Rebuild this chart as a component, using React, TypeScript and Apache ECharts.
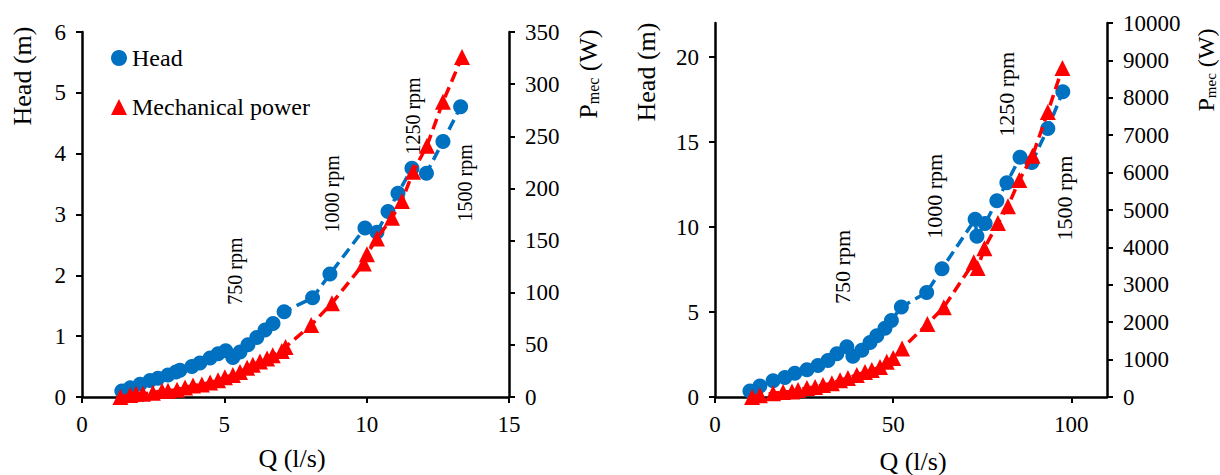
import React, { useEffect, useRef } from "react";
import * as echarts from "echarts";

// ---------- data: left chart (small pump) ----------
const leftHeadQ = [1.40, 1.69, 2.04, 2.39, 2.67, 3.02, 3.30, 3.44, 3.86, 4.14, 4.50, 4.78, 5.05, 5.30, 5.55, 5.83, 6.14, 6.43, 6.71, 7.10, 8.10, 8.71, 9.94, 10.36, 10.75, 11.10, 11.59, 12.10, 12.68, 13.30];
const leftHead = [0.10, 0.15, 0.21, 0.27, 0.31, 0.36, 0.41, 0.44, 0.50, 0.56, 0.64, 0.71, 0.76, 0.65, 0.74, 0.86, 0.98, 1.10, 1.21, 1.40, 1.63, 2.02, 2.78, 2.71, 3.05, 3.35, 3.76, 3.68, 4.20, 4.77];
const leftPowerQ = [1.35, 1.69, 1.90, 2.14, 2.49, 2.81, 3.02, 3.34, 3.62, 3.90, 4.21, 4.50, 4.78, 5.02, 5.30, 5.55, 5.80, 6.00, 6.25, 6.50, 6.70, 7.02, 7.15, 8.05, 8.78, 9.90, 10.01, 10.36, 10.89, 11.24, 11.63, 12.12, 12.68, 13.35];
const leftPower = [0, 2, 3, 3, 4, 6, 6, 7, 9, 11, 12, 14, 16, 19, 21, 24, 28, 31, 34, 37, 40, 44, 48, 69, 90, 128, 137, 152, 172, 188, 216, 241, 283, 326];

// ---------- data: right chart (large pump) ----------
const rightHeadQ = [9.8, 12.6, 16.3, 19.6, 22.4, 25.8, 28.9, 31.7, 34.2, 37.0, 38.7, 41.2, 43.5, 45.4, 47.7, 49.5, 52.3, 59.4, 63.7, 73.0, 73.5, 75.8, 79.1, 81.9, 85.6, 88.9, 93.4, 97.6];
const rightHead = [0.35, 0.65, 0.95, 1.15, 1.40, 1.60, 1.85, 2.15, 2.55, 2.95, 2.40, 2.75, 3.20, 3.60, 4.05, 4.50, 5.30, 6.15, 7.55, 10.45, 9.45, 10.20, 11.55, 12.60, 14.10, 13.80, 15.80, 17.95];
const rightPowerQ = [10.4, 12.6, 16.3, 19.1, 21.6, 23.3, 25.8, 28.1, 30.3, 32.8, 35.1, 37.3, 39.8, 42.1, 44.0, 46.3, 48.2, 50.0, 52.5, 59.6, 64.2, 72.6, 73.7, 75.6, 79.4, 82.2, 85.4, 89.1, 93.4, 97.5];
const rightPower = [0, 50, 100, 135, 150, 190, 240, 270, 320, 370, 450, 510, 590, 670, 720, 800, 940, 1040, 1300, 1950, 2400, 3600, 3450, 3980, 4650, 5100, 5800, 6450, 7620, 8800];

// ---------- annotations (speed labels, in data coordinates of the head axis) ----------
const rpmLabels = ["750 rpm", "1000 rpm", "1250 rpm", "1500 rpm"];
const leftRpmQ = [5.37, 8.78, 11.63, 13.45];
const leftRpmH = [2.07, 3.34, 4.62, 3.52];
const rightRpmQ = [35.9, 61.7, 81.9, 98.2];
const rightRpmH = [7.65, 11.8, 17.8, 11.7];

// ---------- axis ticks ----------
const leftQAxis = { min: 0, max: 15, interval: 5 };
const leftHeadAxis = { min: 0, max: 6, interval: 1 };
const leftPowerAxis = { min: 0, max: 350, interval: 50 };
const rightQAxis = { min: 0, max: 110, interval: 50 };
const rightHeadAxis = { min: 0, max: 22, interval: 5 };
const rightPowerAxis = { min: 0, max: 10000, interval: 1000 };

const FONT = "'Liberation Serif', 'Times New Roman', serif";
const BLUE = "#0070C0";
const RED = "#FF0000";

const pairs = (xs: number[], ys: number[]) => xs.map((x, i) => [x, ys[i]]);

const label = (extra: any = {}) => ({
  color: "#000",
  fontFamily: FONT,
  fontSize: 23,
  margin: 16,
  formatter: (v: number) => String(v),
  ...extra,
});

const baseAxis = (extra: any) => ({
  type: "value",
  axisLine: { show: true, onZero: false, lineStyle: { color: "#000", width: 2.5 } },
  axisTick: { show: true, inside: false, length: 6, lineStyle: { color: "#000", width: 2 } },
  splitLine: { show: false },
  axisLabel: label(),
  ...extra,
});

const vText = (x: number, y: number, text: string, size: number, rich?: any) => ({
  type: "text",
  x,
  y,
  rotation: Math.PI / 2,
  style: {
    text,
    fontFamily: FONT,
    fontSize: size,
    fill: "#000",
    align: "center",
    verticalAlign: "middle",
    textAlign: "center",
    textVerticalAlign: "middle",
    rich,
  },
});

const hText = (x: number, y: number, text: string, size: number) => ({
  type: "text",
  x,
  y,
  style: {
    text,
    fontFamily: FONT,
    fontSize: size,
    fill: "#000",
    align: "center",
    verticalAlign: "middle",
    textAlign: "center",
    textVerticalAlign: "middle",
  },
});

const pmecRich = (size: number) => ({
  a: { fontFamily: FONT, fontSize: size, fill: "#000", color: "#000" },
  b: { fontFamily: FONT, fontSize: Math.round(size * 0.62), fill: "#000", color: "#000", verticalAlign: "bottom", padding: [10, 0, 0, 0] },
});

export default function App() {
  const ref = useRef<HTMLDivElement>(null);

  useEffect(() => {
    if (!ref.current) return;
    const chart = echarts.init(ref.current, undefined, { renderer: "svg" });

    const headSeries = (name: string, data: number[][], xi: number, yi: number) => ({
      name,
      type: "line",
      xAxisIndex: xi,
      yAxisIndex: yi,
      data,
      symbol: "circle",
      symbolSize: 15,
      itemStyle: { color: BLUE },
      lineStyle: { color: BLUE, width: 3.5, type: [11, 6] },
      z: 2,
    });
    const powerSeries = (name: string, data: number[][], xi: number, yi: number) => ({
      name,
      type: "line",
      xAxisIndex: xi,
      yAxisIndex: yi,
      data,
      symbol: "triangle",
      symbolSize: 16,
      itemStyle: { color: RED },
      lineStyle: { color: RED, width: 3.5, type: [11, 6] },
      z: 3,
    });

    const option: any = {
      animation: false,
      backgroundColor: "#fff",
      textStyle: { fontFamily: FONT, color: "#000" },
      grid: [
        { left: 82, top: 32, width: 427, height: 365 },
        { left: 715, top: 23, width: 392, height: 374 },
      ],
      xAxis: [
        baseAxis({ gridIndex: 0, ...leftQAxis }),
        baseAxis({ gridIndex: 1, ...rightQAxis, axisLabel: label({ showMaxLabel: false }) }),
      ],
      yAxis: [
        baseAxis({ gridIndex: 0, position: "left", ...leftHeadAxis }),
        baseAxis({ gridIndex: 0, position: "right", ...leftPowerAxis }),
        baseAxis({ gridIndex: 1, position: "left", ...rightHeadAxis, axisLabel: label({ showMaxLabel: false }) }),
        baseAxis({ gridIndex: 1, position: "right", ...rightPowerAxis }),
      ],
      legend: {
        data: [
          { name: "Head", icon: "circle" },
          { name: "Mechanical power", icon: "triangle" },
        ],
        orient: "vertical",
        left: 106,
        top: 41,
        itemWidth: 16,
        itemHeight: 16,
        itemGap: 25,
        selectedMode: false,
        textStyle: { color: "#000", fontFamily: FONT, fontSize: 24 },
      },
      series: [
        headSeries("Head", pairs(leftHeadQ, leftHead), 0, 0),
        powerSeries("Mechanical power", pairs(leftPowerQ, leftPower), 0, 1),
        headSeries("Head", pairs(rightHeadQ, rightHead), 1, 2),
        powerSeries("Mechanical power", pairs(rightPowerQ, rightPower), 1, 3),
      ],
    };
    chart.setOption(option);

    const graphics: any[] = [
      vText(22, 76, "Head (m)", 26),
      vText(588, 74, "{a|P}{b|mec}{a| (W)}", 26, pmecRich(26)),
      vText(646, 72, "Head (m)", 26),
      vText(1206, 70, "{a|P}{b|mec}{a| (W)}", 24, pmecRich(24)),
      hText(292, 458, "Q (l/s)", 26),
      hText(913, 461, "Q (l/s)", 26),
    ];
    rpmLabels.forEach((t, i) => {
      const p = chart.convertToPixel({ xAxisIndex: 0, yAxisIndex: 0 }, [leftRpmQ[i], leftRpmH[i]]) as number[];
      graphics.push(vText(p[0], p[1], t, 20));
      const q = chart.convertToPixel({ xAxisIndex: 1, yAxisIndex: 2 }, [rightRpmQ[i], rightRpmH[i]]) as number[];
      graphics.push(vText(q[0], q[1], t, 22));
    });
    chart.setOption({ graphic: graphics });

    return () => chart.dispose();
  }, []);

  return (
    <div
      ref={ref}
      style={{ position: "absolute", left: 0, top: 0, width: 1220, height: 475 }}
    />
  );
}
